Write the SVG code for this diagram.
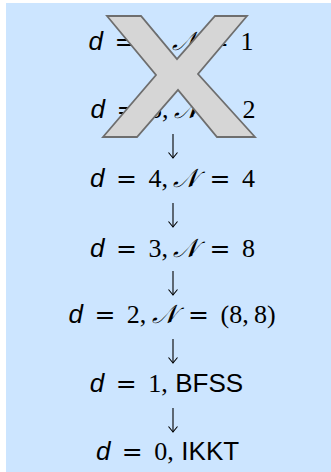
<svg xmlns="http://www.w3.org/2000/svg" width="331" height="472" viewBox="0 0 331 472">
<style>
.t{font-family:"Liberation Serif",serif;font-size:26px;fill:#000;text-anchor:middle;word-spacing:5px}
.v{font-family:"Liberation Sans",sans-serif;font-style:italic}
.n{font-family:"DejaVu Serif","Liberation Serif",serif;font-style:italic}
.e{font-family:"DejaVu Sans",sans-serif;font-size:25px}
.s{font-family:"Liberation Sans",sans-serif}
.z{word-spacing:1px}
.a{stroke:#000;stroke-width:1.1;fill:none}
</style>
<defs>
<marker id="h" markerUnits="userSpaceOnUse" markerWidth="12" markerHeight="12" viewBox="-6 -6 12 12" refX="0" refY="0" orient="auto" overflow="visible">
<path d="M-5.5,-4.5 Q-1.5,-1.2 0,0 Q-1.5,1.2 -5.5,4.5" fill="none" stroke="#000" stroke-width="1.1"/>
</marker>
</defs>
<rect x="6" y="3" width="325" height="469" fill="#cce5ff"/>
<g id="n1"><text class="t" x="171" y="50"><tspan class="v">d</tspan> <tspan class="e">=</tspan> 0,&#8201;<tspan class="n">𝒩</tspan> <tspan class="e">=</tspan> 1</text></g>
<g id="n2"><text class="t" x="173" y="118"><tspan class="v">d</tspan> <tspan class="e">=</tspan> 5,&#8201;<tspan class="n">𝒩</tspan> <tspan class="e">=</tspan> 2</text></g>
<g id="n3"><text class="t" x="172.5" y="187"><tspan class="v">d</tspan> <tspan class="e">=</tspan> 4,&#8201;<tspan class="n">𝒩</tspan> <tspan class="e">=</tspan> 4</text></g>
<g id="n4"><text class="t" x="172.5" y="257"><tspan class="v">d</tspan> <tspan class="e">=</tspan> 3,&#8201;<tspan class="n">𝒩</tspan> <tspan class="e">=</tspan> 8</text></g>
<g id="n5"><text class="t" x="172" y="323"><tspan class="v">d</tspan> <tspan class="e">=</tspan> 2,&#8201;<tspan class="n">𝒩</tspan> <tspan class="e">=</tspan> (8,&#8201;8)</text></g>
<g id="n6"><text class="t" x="166.5" y="392"><tspan class="v">d</tspan> <tspan class="e">=</tspan> 1<tspan class="z">, </tspan><tspan class="s">BFSS</tspan></text></g>
<g id="n7"><text class="t" x="167.5" y="460"><tspan class="v">d</tspan> <tspan class="e">=</tspan> 0<tspan class="z">, </tspan><tspan class="s">IKKT</tspan></text></g>
<g id="connectors">
<path class="a" d="M173,134V158" marker-end="url(#h)"/>
<path class="a" d="M173,203V227" marker-end="url(#h)"/>
<path class="a" d="M173,271V295" marker-end="url(#h)"/>
<path class="a" d="M173,339V363" marker-end="url(#h)"/>
<path class="a" d="M173,408V432" marker-end="url(#h)"/>
</g>
<g id="cross">
<polygon points="107,16 141,16 177,59 215,16 247,16 198,74 255,137 217,137 178,90 137,137 103,137 156,75" fill="#d6d6d6" stroke="#6e6e6e" stroke-width="1.8" stroke-linejoin="miter"/>
</g>
</svg>
